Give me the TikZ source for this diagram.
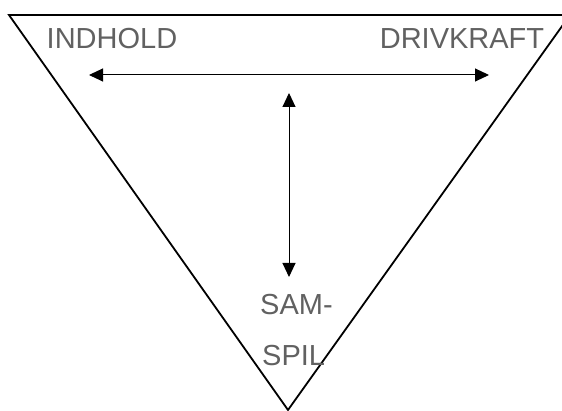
\documentclass[tikz,border=0pt]{standalone}
\usepackage{fontspec}
\setmainfont{Liberation Sans}
\usetikzlibrary{arrows.meta}

\begin{document}
\begin{tikzpicture}[x=1pt,y=1pt]
\tikzstyle{word}=[text=black!62,font=\fontsize{29}{35}\selectfont,inner sep=0pt]
\tikzstyle{pil}=[{Triangle[length=14pt,width=13pt]}-{Triangle[length=14pt,width=13pt]},line width=1pt]
\useasboundingbox (0,0) rectangle (562,411);
\clip (0,0) rectangle (562,411);
% the triangle
\coordinate (tl) at (9,396);
\coordinate (tr) at (570,396);
\coordinate (bot) at (288,1);
\draw [line width=1.8pt,line join=miter] (tl) -- (tr) -- (bot) -- cycle;
% words
\node [word] (indhold) at (112,372) {INDHOLD};
\node [word] (drivkraft) at (462,372) {DRIVKRAFT};
\node [word,anchor=west] (sam) at (260,106) {SAM-};
\node [word,anchor=west] (spil) at (262,55) {SPIL};
% arrows
\coordinate (hl) at (89,336);
\coordinate (hr) at (489,336);
\coordinate (vt) at (289,318);
\coordinate (vb) at (289,134);
\draw [pil] (hl) -- (hr);
\draw [pil] (vt) -- (vb);
\end{tikzpicture}
\end{document}
